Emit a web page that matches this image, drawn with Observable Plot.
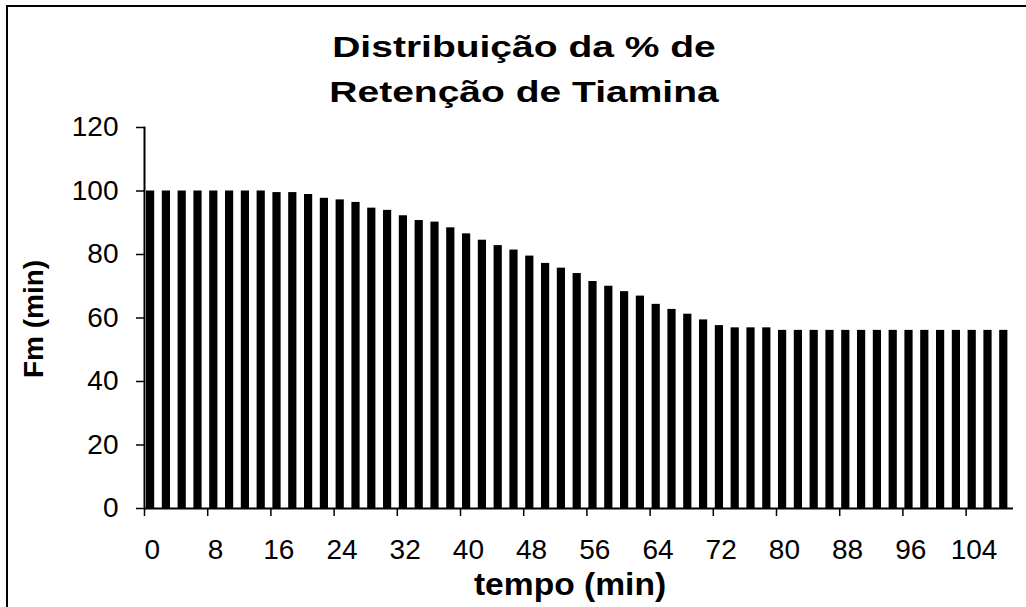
<!DOCTYPE html>
<html>
<head>
<meta charset="utf-8">
<script src="https://cdn.jsdelivr.net/npm/d3@7"></script>
<script src="https://cdn.jsdelivr.net/npm/@observablehq/plot@0.6"></script>
<style>
  body { margin: 0; background: #fff; }
  #wrap { position: relative; width: 1026px; height: 607px; overflow: hidden;
          font-family: "Liberation Sans", Arial, Helvetica, sans-serif; color: #000; }
  #frame { position: absolute; left: 6px; top: 5px; width: 1100px; height: 700px;
           border: 2px solid #000; box-sizing: border-box; }
  #chart { position: absolute; left: 0; top: 0; }
  .t { position: absolute; font-weight: bold; white-space: nowrap; line-height: 1; }
  .title { font-size: 30px; left: 524px; transform: translateX(-50%) scaleX(1.3); transform-origin: center; }
  #xlab { font-size: 32px; left: 570px; top: 568px; transform: translateX(-50%) scaleX(1.05); transform-origin: center; }
  #ylab { font-size: 28px; left: 34px; top: 319px; transform: translate(-50%, -50%) rotate(-90deg); transform-origin: center; }
</style>
</head>
<body>
<div id="wrap">
  <div id="frame"></div>
  <div id="chart"></div>
  <div class="t title" id="title1" style="top:32px">Distribuição da % de</div>
  <div class="t title" id="title2" style="top:77px">Retenção de Tiamina</div>
  <div class="t" id="xlab">tempo (min)</div>
  <div class="t" id="ylab">Fm (min)</div>
</div>
<script>
// categories: time (min)
const times = [0, 2, 4, 6, 8, 10, 12, 14, 16, 18, 20, 22, 24, 26, 28, 30, 32, 34, 36, 38,
               40, 42, 44, 46, 48, 50, 52, 54, 56, 58, 60, 62, 64, 66, 68, 70, 72, 74, 76, 78,
               80, 82, 84, 86, 88, 90, 92, 94, 96, 98, 100, 102, 104, 106, 108];
// series values: % retention
const values = [100, 100, 100, 100, 100, 100, 100, 100, 99.5, 99.5, 98.9, 97.7, 97.2, 96.4, 94.6, 93.9,
                92.2, 90.7, 90.2, 88.4, 86.5, 84.5, 82.8, 81.4, 79.5, 77.2, 75.7, 74.0, 71.5, 70.0,
                68.3, 66.9, 64.3, 62.7, 61.2, 59.4, 57.6, 56.9, 56.9, 56.9,
                56.1, 56.1, 56.1, 56.1, 56.1, 56.1, 56.1, 56.1, 56.1, 56.1, 56.1, 56.1, 56.1, 56.1, 56.1];
// tick labels
const xTickLabels = [0, 8, 16, 24, 32, 40, 48, 56, 64, 72, 80, 88, 96, 104];
const yTicks = [0, 20, 40, 60, 80, 100, 120];
const step = 2;

const data = times.map((t, i) => ({t, v: values[i]}));

const plot = Plot.plot({
  width: 1026,
  height: 607,
  marginLeft: 144,
  marginRight: 13,
  marginTop: 127,
  marginBottom: 99,
  style: {fontFamily: '"Liberation Sans", Arial, Helvetica, sans-serif', fontSize: "28px", color: "#000", background: "transparent", overflow: "visible"},
  x: {type: "linear", domain: [times[0], times[times.length - 1] + step]},
  y: {domain: [0, 120]},
  marks: [
    Plot.rectY(data, {x1: "t", x2: d => d.t + step, y1: 0, y2: "v", fill: "#000", insetLeft: 2, insetRight: 5.6}),
    Plot.axisY({ticks: yTicks, tickSize: 8, tickPadding: 18, label: null, strokeWidth: 1.5}),
    Plot.axisX({ticks: xTickLabels, tickSize: 8, tickFormat: () => "", label: null, strokeWidth: 1.5}),
    Plot.axisX({ticks: xTickLabels.map(t => t + step / 2), tickSize: 0, tickPadding: 31,
                tickFormat: d => String(d - step / 2), label: null}),
    Plot.frame({anchor: "left", strokeWidth: 2}),
    Plot.ruleY([0], {strokeWidth: 2})
  ]
});
document.getElementById("chart").appendChild(plot);
</script>
</body>
</html>
